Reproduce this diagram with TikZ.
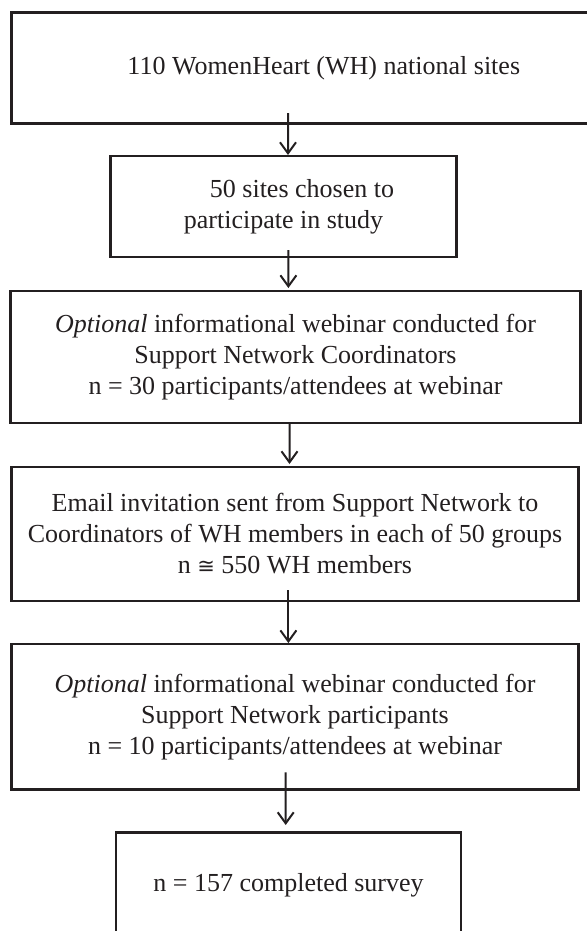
\documentclass[tikz,border=0pt]{standalone}
\usepackage{fontspec}
\setmainfont{Liberation Serif}
\newfontfamily\symfam{DejaVu Sans}
\usetikzlibrary{arrows.meta,calc}
\definecolor{ink}{HTML}{231F20}
\begin{document}
\begin{tikzpicture}[x=1bp,y=-1bp,
  flowbox/.style={draw=ink, line width=2.8bp, rectangle, inner sep=0pt, outer sep=0pt,
    text=ink, align=center, font=\fontsize{26bp}{31bp}\selectfont},
  arr/.style={draw=ink, line width=2bp, -{Straight Barb[length=11bp,width=16bp,line width=2bp]}}]
\useasboundingbox (0,0) rectangle (587,931);
\node[flowbox, minimum width=588.4bp, minimum height=110.3bp] (b1) at (305.8,68)
  {\hspace*{36bp}110 WomenHeart (WH) national sites};
\node[flowbox, minimum width=345.3bp, minimum height=101bp] (b2) at (283.5,206.5)
  {\hspace*{37bp}50 sites chosen to\\participate in study};
\node[flowbox, minimum width=570bp, minimum height=132bp] (b3) at (295.5,357)
  {\textit{Optional} informational webinar conducted for\\Support Network Coordinators\\n = 30 participants/attendees at webinar};
\node[flowbox, minimum width=567.5bp, minimum height=134bp] (b4) at (295,534)
  {Email invitation sent from Support Network to\\Coordinators of WH members in each of 50 groups\\n {\symfam\fontsize{21bp}{31bp}\selectfont ≅} 550 WH members};
\node[flowbox, minimum width=567.5bp, minimum height=145.3bp] (b5) at (295,716.7)
  {\textit{Optional} informational webinar conducted for\\Support Network participants\\n = 10 participants/attendees at webinar};
\node[flowbox, minimum width=345bp, minimum height=104.6bp] (b6) at (288.5,885)
  {n = 157 completed survey};
\draw[arr] ($(b1.south)+(-17.8,-10)$) -- ($(b2.north)+(4.5,-1)$);
\draw[arr] ($(b2.south)+(4.9,-7)$) -- ($(b3.north)+(-7.1,-3)$);
\draw[arr] ($(b3.south)+(-6,0)$) -- ($(b4.north)+(-5.5,-3)$);
\draw[arr] ($(b4.south)+(-6.6,-11)$) -- ($(b5.north)+(-6.6,-1)$);
\draw[arr] ($(b5.south)+(-9.3,-17)$) -- ($(b6.north)+(-2.8,-7.7)$);
\end{tikzpicture}
\end{document}
